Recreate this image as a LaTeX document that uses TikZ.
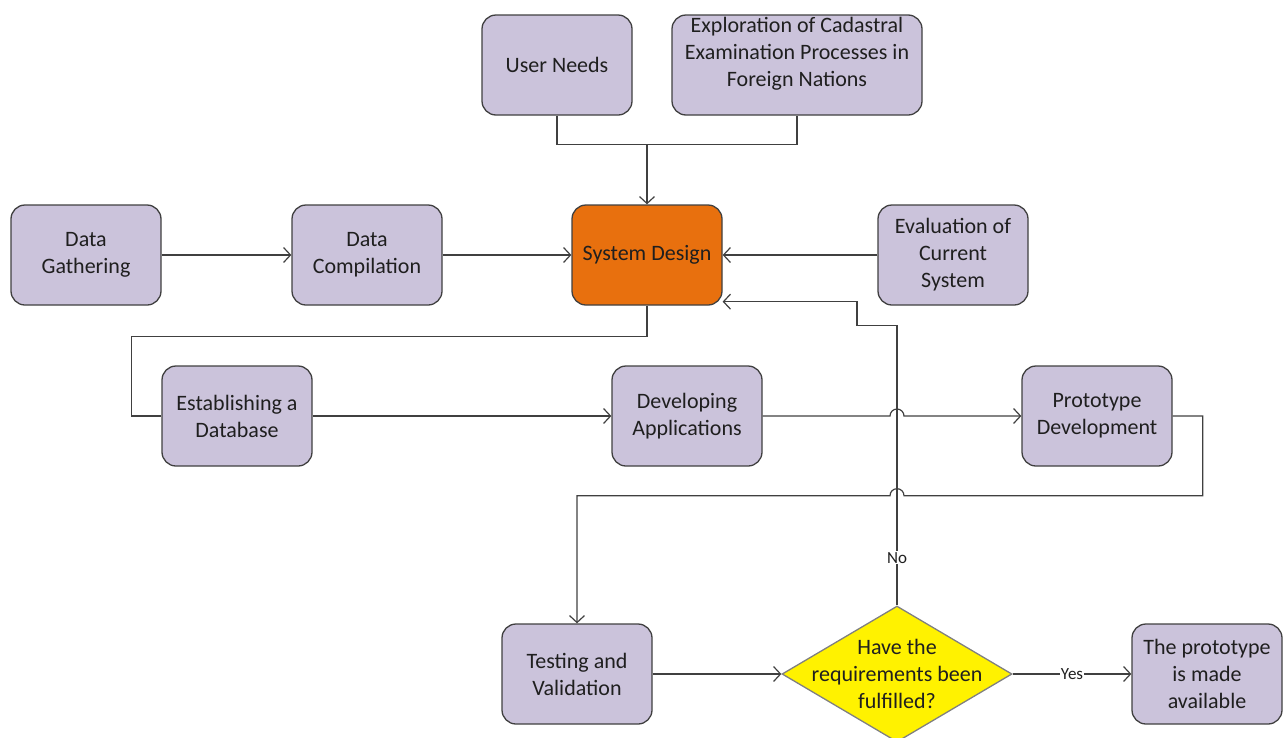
\documentclass[tikz,border=0pt]{standalone}
\usepackage{fontspec}
\setmainfont{Carlito}
\usetikzlibrary{shapes.geometric, arrows.meta, positioning, calc}
\definecolor{boxfill}{HTML}{CBC3DB}
\definecolor{designfill}{HTML}{E8700E}
\definecolor{linegray}{HTML}{404040}
\definecolor{textgray}{HTML}{1F1F1F}

\begin{document}
\begin{tikzpicture}[on grid, >={Straight Barb[length=7pt,width=15pt]},
    box/.style={rectangle, rounded corners=14pt, draw=linegray, fill=boxfill, line width=1.3pt,
        minimum width=150pt, minimum height=100pt, align=center, inner sep=2pt,
        text=textgray, font=\fontsize{22}{27}\selectfont},
    decision/.style={diamond, draw=gray, fill=yellow, line width=1.3pt,
        minimum width=230pt, minimum height=136pt, inner sep=0pt},
    flow/.style={draw=linegray, line width=1.2pt},
    tag/.style={fill=white, inner sep=1pt, text=textgray, font=\fontsize{17}{19}\selectfont}]
        \useasboundingbox (0pt,0pt) rectangle (1287pt,-737pt);

        \node[box]              (gather) at (86pt,-255pt)               {Data\\Gathering};
        \node[box]              (compile)[right=281pt of gather]        {Data\\Compilation};
        \node[box, fill=designfill] (design)[right=280pt of compile]    {System Design};
        \node[box]              (eval)[right=306pt of design]           {Evaluation of\\Current\\System};
        \node[box]              (needs)[above left=190pt and 90pt of design] {User Needs};
        \node[box, minimum width=250pt, text depth=26pt] (explore)[right=240pt of needs]
                                {Exploration of Cadastral\\Examination Processes in\\Foreign Nations};
        \node[box]              (establish)[below right=161pt and 151pt of gather] {Establishing a\\Database};
        \node[box]              (develop)[right=450pt of establish]     {Developing\\Applications};
        \node[box]              (proto)[right=410pt of develop]         {Prototype\\Development};
        \node[box]              (testing)[below left=258pt and 110pt of develop] {Testing and\\Validation};
        \node[decision]         (decide)[right=320pt of testing]        {};
        \node[align=center, text=textgray, font=\fontsize{22}{27}\selectfont]
                                (decidetext) at (decide)                {Have the\\requirements been\\fulfilled?};
        \node[box]              (release)[right=310pt of decide]        {The prototype\\is made\\available};

        \coordinate[above=60pt of design.north] (merge);
        \coordinate[below=29pt of proto.south] (lowrow);

        \path[->, flow]
        (gather) edge (compile)
        (compile) edge (design)
        (eval) edge (design)
        (establish) edge (develop)
        (testing) edge (decide)
        (decide) edge node[tag] {Yes} (release)
        ;

        \draw[flow] (needs.south) |- (merge) -| (explore.south);
        \draw[->, flow] (merge) -- (design.north);
        \draw[flow] (design.south) -- ++(0,-31pt) -| ($(establish.west)+(-30pt,0)$) -- (establish.west);
        % line hops over the feedback line
        \draw[->, flow] (develop.east) -- ($(develop.east -| decide.north)+(-7pt,0)$)
            arc[start angle=180, end angle=0, radius=7pt] -- (proto.west);
        \draw[->, flow] (proto.east) -- ++(30pt,0) |- ($(lowrow -| decide.north)+(7pt,0)$)
            arc[start angle=0, end angle=180, radius=7pt] -| (testing.north);
        \draw[->, flow] (decide.north) -- node[tag, pos=0.17] {No} ($(decide.north |- design.south)+(0,-20pt)$)
            -- ++(-40pt,0) |- ($(design.south east)+(0,4pt)$);
\end{tikzpicture}
\end{document}
